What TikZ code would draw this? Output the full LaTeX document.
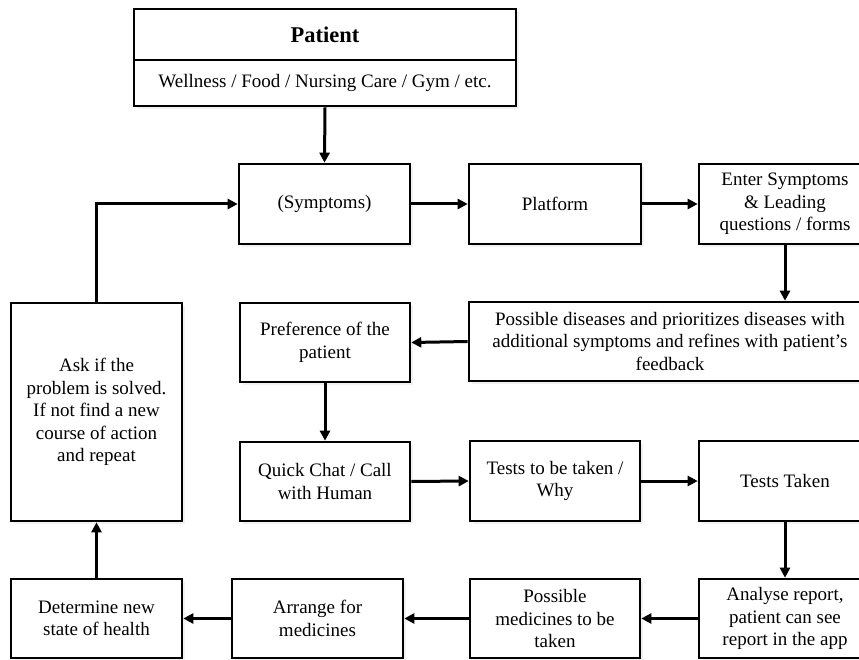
\documentclass[tikz,border=0pt]{standalone}
\usepackage{fontspec}
\setmainfont{Liberation Serif}
\usepackage{xcolor}
\usepackage{tikz}
\usetikzlibrary{arrows.meta,positioning,shadows}

\begin{document}
\begin{tikzpicture}[
  box/.style={draw, line width=2.6pt, fill=white, align=center, inner sep=2pt,
    font=\fontsize{19}{22.5}\selectfont,
    drop shadow={shadow xshift=3pt, shadow yshift=-3pt, fill=gray!22}},
  flow/.style={-{Triangle[length=10pt, width=10pt]}, line width=3pt},
  x=1pt, y=-1pt
]
\useasboundingbox (0,0) rectangle (859,660);

\node[box, minimum width=382, minimum height=51, font=\fontsize{22.5}{26}\selectfont\bfseries] (pat) at (325,34.5) {Patient};
\node[box, minimum width=382, minimum height=46] (well) at (325,83) {Wellness / Food / Nursing Care / Gym / etc.};

\node[box, minimum width=171, minimum height=80] (symp) at (324.5,204) {(Symptoms)};
\node[box, minimum width=172, minimum height=80] (plat) at (555,204) {Platform};
\node[box, minimum width=172, minimum height=80] (enter) at (785,204) {Enter Symptoms\\ \& Leading\\ questions / forms};

\node[box, minimum width=402, minimum height=79] (dis) at (670,341.5) {Possible diseases and prioritizes diseases with\\ additional symptoms and refines with patient’s\\ feedback};
\node[box, minimum width=170, minimum height=79] (pref) at (325,342.5) {Preference of the\\ patient};

\node[box, minimum width=170, minimum height=79] (chat) at (325,481.5) {Quick Chat / Call\\ with Human};
\node[box, minimum width=170, minimum height=80] (tests) at (555,481) {Tests to be taken /\\ Why};
\node[box, minimum width=172, minimum height=80] (taken) at (785,481) {Tests Taken};

\node[box, minimum width=172, minimum height=79] (rep) at (785,618.5) {Analyse report,\\ patient can see\\ report in the app};
\node[box, minimum width=170, minimum height=79] (meds) at (555,618.5) {Possible\\ medicines to be\\ taken};
\node[box, minimum width=171, minimum height=79] (arr) at (317.5,618.5) {Arrange for\\ medicines};
\node[box, minimum width=171, minimum height=79] (det) at (96.5,618.5) {Determine new\\ state of health};

\node[box, minimum width=171, minimum height=218] (ask) at (96.5,412) {Ask if the\\ problem is solved.\\ If not find a new\\ course of action\\ and repeat};

\draw[flow] (well.south) -- (symp.north);
\draw[flow] (symp.east) -- (plat.west);
\draw[flow] (plat.east) -- (enter.west);
\draw[flow] (enter.south) -- (enter.south |- dis.north);
\draw[flow] (dis.west) -- (pref.east);
\draw[flow] (pref.south) -- (chat.north);
\draw[flow] (chat.east) -- (tests.west);
\draw[flow] (tests.east) -- (taken.west);
\draw[flow] (taken.south) -- (rep.north);
\draw[flow] (rep.west) -- (meds.east);
\draw[flow] (meds.west) -- (arr.east);
\draw[flow] (arr.west) -- (det.east);
\draw[flow] (det.north) -- (ask.south);
\draw[flow] (ask.north) |- (symp.west);
\end{tikzpicture}
\end{document}
